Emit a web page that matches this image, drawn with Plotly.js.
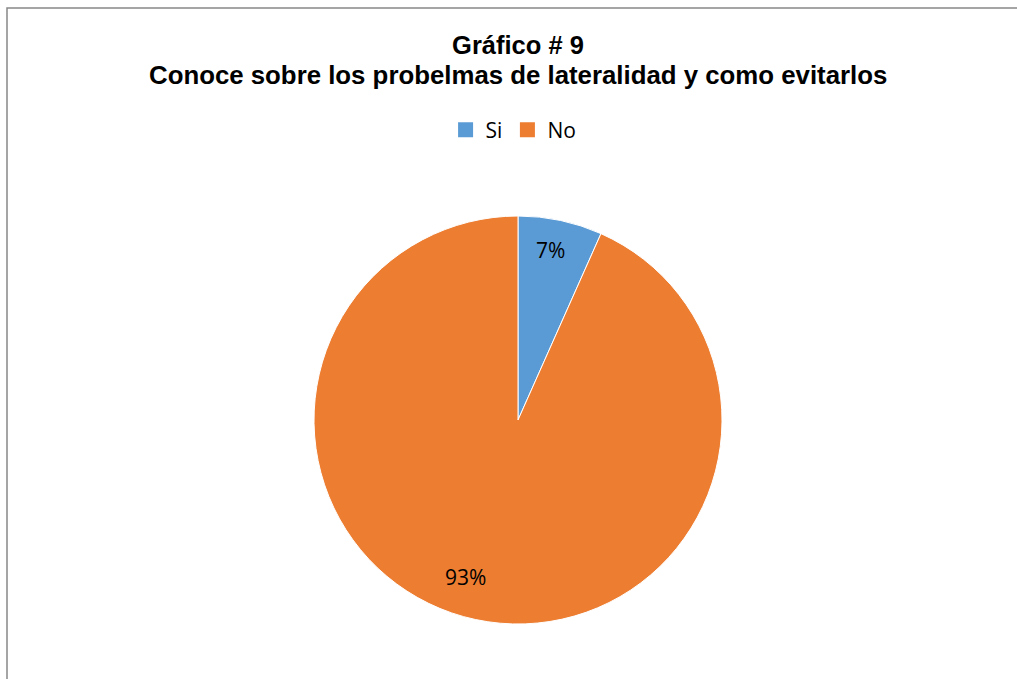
<!DOCTYPE html>
<html>
<head>
<meta charset="utf-8">
<script src="https://cdn.plot.ly/plotly-3.0.1.min.js"></script>
<style>html,body{margin:0;padding:0;background:#fff;}#chart{width:1017px;height:679px;}</style>
</head>
<body>
<div id="chart"></div>
<script>
const categories = ["Si", "No"];
const values = [2, 28];
const colors = ["#5B9BD5", "#ED7D31"];
const titleLine1 = "Gráfico # 9";
const titleLine2 = "Conoce sobre los probelmas de lateralidad y como evitarlos";

const W = 1017, H = 679;
const cx = 518, cy = 420, r = 204;
const labelFont = "Open Sans, Liberation Sans, sans-serif";

const pieTrace = {
  type: "pie",
  labels: categories,
  values: values,
  sort: false,
  direction: "clockwise",
  rotation: 0,
  marker: {colors: colors, line: {color: "#ffffff", width: 1}},
  textinfo: "none",
  hoverinfo: "label+percent",
  showlegend: false,
  domain: {x: [(cx - r) / W, (cx + r) / W], y: [(H - cy - r) / H, (H - cy + r) / H]}
};

// legend entries (square swatches)
const legendTraces = categories.map((c, i) => ({
  type: "scatter", mode: "markers", x: [null], y: [null], name: c,
  marker: {symbol: "square", size: 15, color: colors[i]},
  showlegend: true, hoverinfo: "skip"
}));

// percentage labels positioned from data values
const total = values.reduce((a, b) => a + b, 0);
const annotations = [];
let acc = 0;
values.forEach((v, i) => {
  const mid = (acc + v / 2) / total * 2 * Math.PI;
  acc += v;
  const rf = i === 0 ? 0.85 : 0.787;
  const px = cx + rf * r * Math.sin(mid) - (i === 0 ? 4 : 19);
  const py = cy - rf * r * Math.cos(mid);
  annotations.push({
    xref: "paper", yref: "paper", x: px / W, y: 1 - py / H,
    xanchor: "center", yanchor: "middle", showarrow: false,
    text: Math.round(v / total * 100) + "%",
    font: {family: labelFont, size: 21, color: "#000000"}
  });
});
annotations.push({
  xref: "paper", yref: "paper", x: 518 / W, y: 1 - 75 / H,
  xanchor: "center", yanchor: "middle", showarrow: false,
  text: "<b>" + titleLine2 + "</b>",
  font: {family: "Liberation Sans, Arial, sans-serif", size: 25.8, color: "#000000"}
});

const layout = {
  width: W, height: H,
  margin: {l: 0, r: 0, t: 0, b: 0},
  paper_bgcolor: "#ffffff",
  plot_bgcolor: "#ffffff",
  title: {
    text: "<b>" + titleLine1 + "</b>",
    font: {family: "Liberation Sans, Arial, sans-serif", size: 25.5, color: "#000000"},
    x: 518 / W, xanchor: "center", y: 1 - 45 / H, yanchor: "middle"
  },
  xaxis: {visible: false, range: [0, 1]},
  yaxis: {visible: false, range: [0, 1]},
  showlegend: true,
  legend: {
    orientation: "h", x: 0.505, xanchor: "center", y: 1 - 130 / H, yanchor: "middle",
    font: {family: labelFont, size: 21, color: "#000000"},
    itemwidth: 30, tracegroupgap: 0, bgcolor: "rgba(0,0,0,0)"
  },
  annotations: annotations,
  shapes: [{
    type: "rect", xref: "paper", yref: "paper",
    x0: 7 / W, x1: 1.01, y0: -0.01, y1: 1 - 8 / H,
    line: {color: "#888888", width: 1.5}
  }]
};

Plotly.newPlot("chart", [pieTrace, ...legendTraces], layout, {displayModeBar: false, staticPlot: true});
</script>
</body>
</html>
